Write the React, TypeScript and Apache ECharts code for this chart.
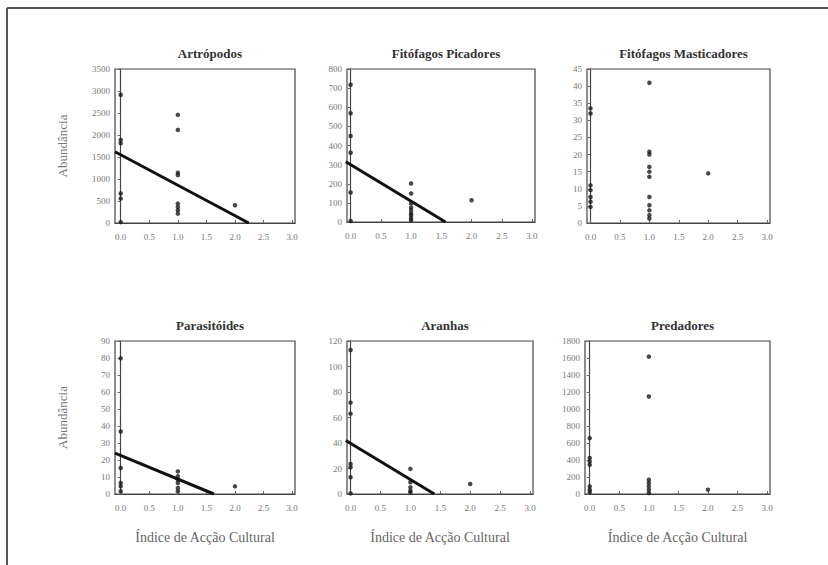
import React, { useEffect, useRef } from "react";
import * as echarts from "echarts";

// ---- Data ----
const titles = [
  "Artrópodos",
  "Fitófagos Picadores",
  "Fitófagos Masticadores",
  "Parasitóides",
  "Aranhas",
  "Predadores",
];
const xTicks = [0, 0.5, 1, 1.5, 2, 2.5, 3];
const xAxisName = "Índice de Acção Cultural";
const yAxisName = "Abundância";

// y-axis ranges [max, interval]
const yMax = [3500, 800, 45, 90, 120, 1800];
const yStep = [500, 100, 5, 10, 20, 200];

// Abundance values at cultural-action index 0, 1 and 2
const artropodos0 = [2915, 1887, 1811, 670, 555, 20];
const artropodos1 = [2458, 2116, 1141, 1088, 441, 365, 289, 213];
const artropodos2 = [403];

const picadores0 = [718, 569, 450, 362, 154, 5];
const picadores1 = [201, 149, 96, 75, 61, 45, 35, 20, 9];
const picadores2 = [114];

const masticadores0 = [33.5, 32, 11, 9.6, 7.6, 6.2, 4.7];
const masticadores1 = [41, 20.8, 20, 16.4, 15, 13.5, 7.6, 5.2, 3.7, 2.3, 1.3];
const masticadores2 = [14.5];

const parasitoides0 = [79.8, 36.8, 15.3, 6.5, 4.5, 1.6];
const parasitoides1 = [13.3, 10.4, 8.4, 6.5, 3.5, 1.6];
const parasitoides2 = [4.5];

const aranhas0 = [112.9, 71.7, 63, 23.6, 21, 13.1, 0.5];
const aranhas1 = [19.7, 9.2, 5.2, 2.6, 1.3];
const aranhas2 = [7.9];

const predadores0 = [657, 423, 384, 344, 90, 50, 20];
const predadores1 = [1616, 1147, 168, 129, 90, 51, 12];
const predadores2 = [51];

// Regression lines: [x, y] end points (null = no line)
const fitArtropodos = [[-0.1, 1620], [2.24, 0]];
const fitPicadores = [[-0.08, 315], [1.57, 0]];
const fitParasitoides = [[-0.1, 24], [1.63, 0]];
const fitAranhas = [[-0.08, 42], [1.4, 0]];

const groups = [
  [artropodos0, artropodos1, artropodos2],
  [picadores0, picadores1, picadores2],
  [masticadores0, masticadores1, masticadores2],
  [parasitoides0, parasitoides1, parasitoides2],
  [aranhas0, aranhas1, aranhas2],
  [predadores0, predadores1, predadores2],
];
const fits = [fitArtropodos, fitPicadores, null, fitParasitoides, fitAranhas, null];

// ---- Layout ----
const grids = [
  { left: 115, top: 69, width: 180, height: 154 },
  { left: 347, top: 69, width: 188, height: 153 },
  { left: 587, top: 69, width: 183, height: 154 },
  { left: 115, top: 341, width: 180, height: 153 },
  { left: 347, top: 341, width: 186, height: 153 },
  { left: 585, top: 341, width: 185, height: 153 },
];
const xMin = [-0.1, -0.06, -0.06, -0.1, -0.06, -0.08];

const FONT = "'Liberation Serif', 'DejaVu Serif', serif";

export default function App() {
  const ref = useRef<HTMLDivElement>(null);
  useEffect(() => {
    if (!ref.current) return;
    const chart = echarts.init(ref.current, undefined, { renderer: "svg" });

    const series: any[] = [];
    groups.forEach((g, i) => {
      const pts: number[][] = [];
      g.forEach((arr, xi) => arr.forEach((v) => pts.push([xi, v])));
      series.push({
        type: "scatter",
        xAxisIndex: i,
        yAxisIndex: i,
        data: pts,
        symbol: "circle",
        symbolSize: 4.5,
        itemStyle: { color: "#1a1a1a" },
        silent: true,
      });
      const f = fits[i];
      if (f) {
        series.push({
          type: "line",
          xAxisIndex: i,
          yAxisIndex: i,
          data: f,
          symbol: "none",
          lineStyle: { color: "#111", width: 3 },
          silent: true,
        });
      }
    });

    const option: any = {
      animation: false,
      backgroundColor: "#fff",
      title: titles.map((t, i) => ({
        text: t,
        left: grids[i].left + grids[i].width / 2,
        top: grids[i].top - 27,
        textAlign: "center",
        textStyle: { fontFamily: FONT, fontSize: 13, fontWeight: "bold", color: "#333" },
      })),
      grid: grids.map((g) => ({
        ...g,
        show: true,
        borderColor: "#444",
        borderWidth: 1.2,
        backgroundColor: "transparent",
      })),
      xAxis: grids.map((_, i) => ({
        type: "value",
        gridIndex: i,
        min: xMin[i],
        max: 3.05,
        name: i >= 3 ? xAxisName : "",
        nameLocation: "middle",
        nameGap: 36,
        nameTextStyle: { fontFamily: FONT, fontSize: 14, color: "#666" },
        axisLine: { show: true, lineStyle: { color: "#444", width: 1.2 } },
        axisTick: { show: true, inside: true, length: 3, customValues: xTicks, lineStyle: { color: "#666" } },
        axisLabel: {
          customValues: xTicks,
          formatter: (v: number) => v.toFixed(1),
          fontFamily: FONT,
          fontSize: 9,
          color: "#777",
          margin: 9,
        },
        splitLine: { show: false },
      })),
      yAxis: grids.map((_, i) => ({
        type: "value",
        gridIndex: i,
        min: 0,
        max: yMax[i],
        interval: yStep[i],
        name: i === 0 || i === 3 ? yAxisName : "",
        nameLocation: "middle",
        nameRotate: 90,
        nameGap: 46,
        nameTextStyle: { fontFamily: FONT, fontSize: 13, color: "#777" },
        axisLine: { show: true, lineStyle: { color: "#444", width: 1.2 } },
        axisTick: { show: true, inside: false, length: 3, lineStyle: { color: "#666" } },
        axisLabel: {
          formatter: (v: number) => String(v),
          fontFamily: FONT,
          fontSize: 9,
          color: "#777",
          margin: 5,
        },
        splitLine: { show: false },
      })),
      graphic: [
        { type: "line", shape: { x1: 7, y1: 8, x2: 828, y2: 8 }, style: { stroke: "#555", lineWidth: 2 } },
        { type: "line", shape: { x1: 7, y1: 8, x2: 7, y2: 565 }, style: { stroke: "#555", lineWidth: 2 } },
      ],
      series,
    };
    chart.setOption(option);
    return () => chart.dispose();
  }, []);
  return (
    <div style={{ position: "fixed", left: 0, top: 0, width: 828, height: 565, background: "#fff" }}>
      <div ref={ref} style={{ width: 828, height: 565 }} />
    </div>
  );
}
